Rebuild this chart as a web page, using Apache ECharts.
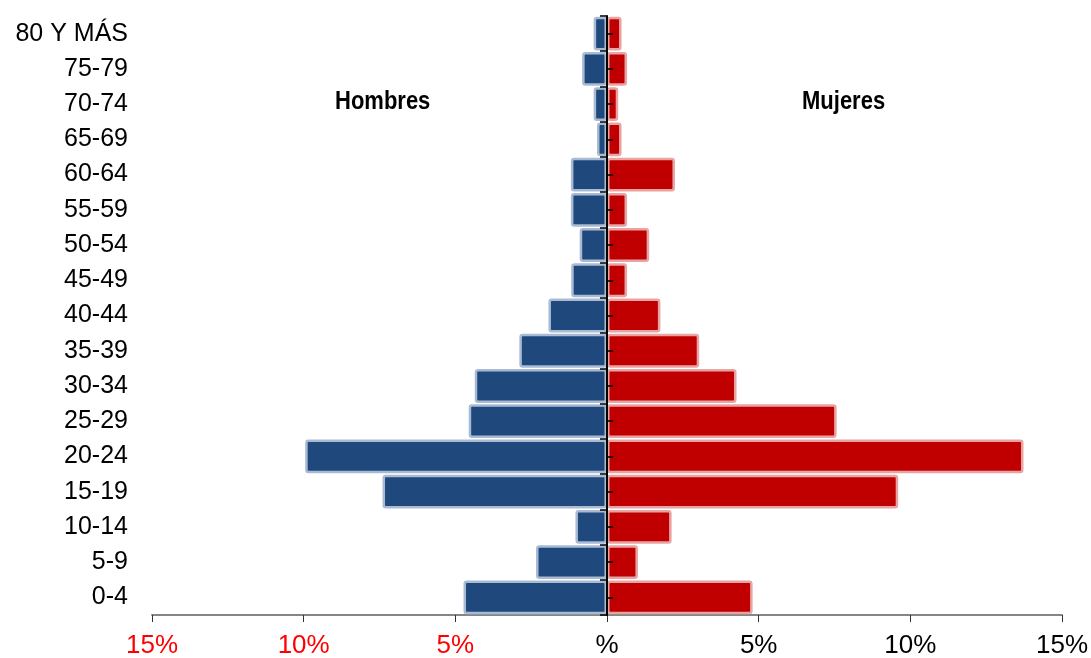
<!DOCTYPE html>
<html>
<head>
<meta charset="utf-8">
<script src="https://cdn.jsdelivr.net/npm/echarts@6/dist/echarts.min.js"></script>
<style>
  html, body { margin:0; padding:0; background:#fff; }
  #chart { width:1091px; height:658px; }
</style>
</head>
<body>
<div id="chart"></div>
<script>
// grupos de edad, de abajo hacia arriba
var categorias = ['0-4','5-9','10-14','15-19','20-24','25-29','30-34','35-39','40-44','45-49','50-54','55-59','60-64','65-69','70-74','75-79','80 Y MÁS'];
// porcentaje de la población
var hombres = [4.73, 2.34, 1.04, 7.40, 9.95, 4.56, 4.36, 2.89, 1.93, 1.18, 0.90, 1.19, 1.19, 0.33, 0.44, 0.82, 0.44];
var mujeres = [4.80, 1.02, 2.13, 9.60, 13.73, 7.57, 4.27, 3.04, 1.76, 0.66, 1.39, 0.66, 2.24, 0.48, 0.37, 0.66, 0.48];
var ejeX = { min: -15, max: 15, interval: 5 };

var fuente = '"Liberation Sans", Arial, sans-serif';

var hombresNeg = hombres.map(function (v) { return -v; });

// el eje central va en el cero: mitad del ancho de la rejilla
var gridLeft = 152, gridRight = 29;
var anchoGrid = 1091 - gridLeft - gridRight;
var offsetCentro = -anchoGrid / 2;

var myChart = echarts.init(document.getElementById('chart'));

var option = {
    animation: false,
    textStyle: { fontFamily: fuente },
    grid: { left: gridLeft, right: gridRight, top: 16, bottom: 43, containLabel: false, outerBoundsMode: 'none' },
    xAxis: {
        type: 'value',
        min: ejeX.min,
        max: ejeX.max,
        interval: ejeX.interval,
        splitLine: { show: false },
        axisLine: { show: true, lineStyle: { color: '#868686', width: 2 } },
        axisTick: { show: true, length: 7, lineStyle: { color: '#333', width: 1 } },
        axisLabel: {
            margin: 18,
            fontSize: 26,
            fontFamily: fuente,
            color: function (v) { return v < 0 ? '#ff0000' : '#000000'; },
            formatter: function (v) { return v === 0 ? '%' : Math.abs(v) + '%'; }
        }
    },
    yAxis: [
        {   // etiquetas a la izquierda
            type: 'category',
            data: categorias,
            position: 'left',
            axisLine: { show: false, onZero: false },
            axisTick: { show: false },
            axisLabel: { margin: 24, fontSize: 25, color: '#000', fontFamily: fuente }
        },
        {   // eje central, marcas en los límites hacia la izquierda
            type: 'category',
            data: categorias,
            position: 'left',
            offset: offsetCentro,
            axisLine: { show: true, onZero: false, lineStyle: { color: '#000', width: 2 } },
            axisTick: { show: true, length: 7, lineStyle: { color: '#000', width: 1.5 } },
            axisLabel: { show: false },
            z: 5
        },
        {   // marcas centrales hacia la derecha
            type: 'category',
            data: categorias,
            position: 'left',
            offset: offsetCentro,
            axisLine: { show: false, onZero: false },
            axisTick: { show: true, alignWithLabel: true, inside: true, length: 6, lineStyle: { color: '#000', width: 1.5 } },
            axisLabel: { show: false },
            z: 5
        }
    ],
    graphic: [
        { type: 'text', left: 335, top: 90, scaleY: 1.14, style: { text: 'Hombres', font: 'bold 22px ' + fuente, fill: '#000' } },
        { type: 'text', left: 802, top: 90, scaleY: 1.14, style: { text: 'Mujeres', font: 'bold 22px ' + fuente, fill: '#000' } }
    ],
    series: [
        {
            name: 'Hombres',
            type: 'bar',
            data: hombresNeg,
            barCategoryGap: '4%',
            barGap: '-100%',
            itemStyle: { color: '#1f497d', borderColor: '#a9bbd3', borderWidth: 2.5, borderRadius: 2 },
            z: 1
        },
        {
            name: 'Mujeres',
            type: 'bar',
            data: mujeres,
            barCategoryGap: '4%',
            barGap: '-100%',
            itemStyle: { color: '#c00000', borderColor: '#e8a3a3', borderWidth: 2.5, borderRadius: 2 },
            z: 1
        }
    ]
};

myChart.setOption(option);
</script>
</body>
</html>
